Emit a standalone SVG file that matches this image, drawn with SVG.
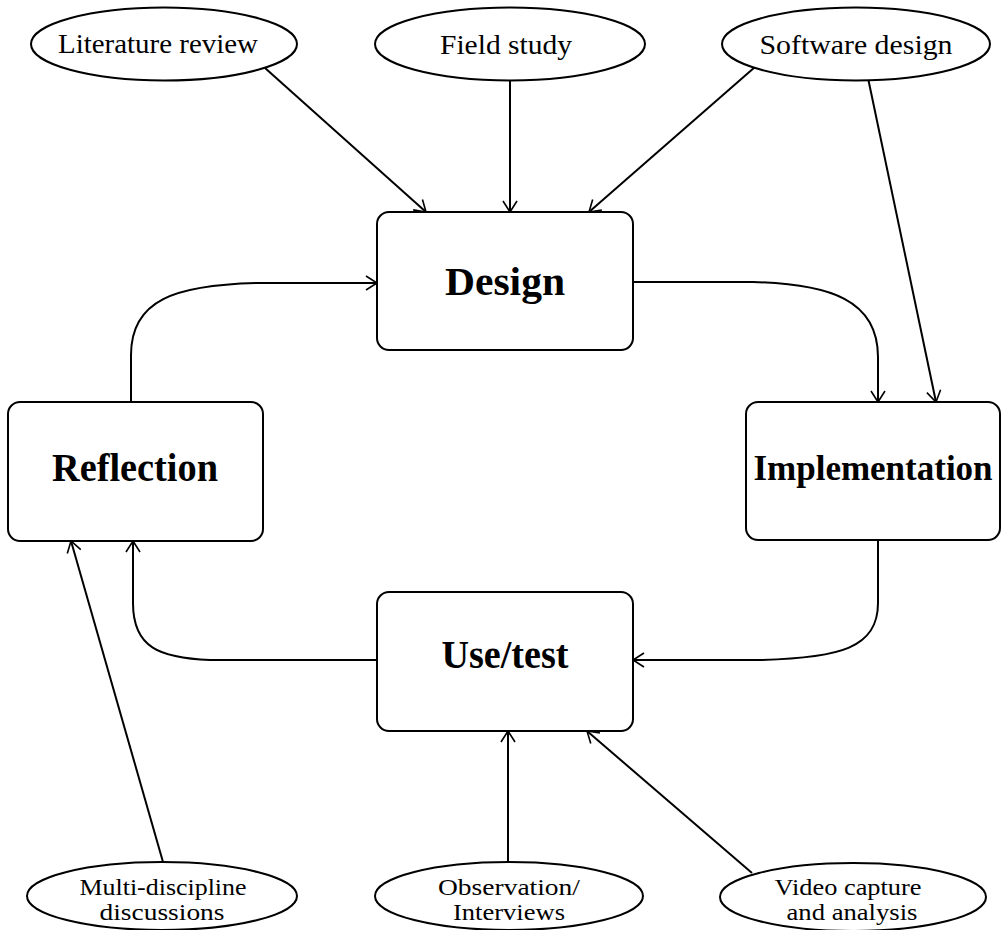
<svg xmlns="http://www.w3.org/2000/svg" width="1001" height="930" viewBox="0 0 1001 930">
  <style>
    .box { fill: #fff; stroke: #000; stroke-width: 2; }
    .oval { fill: #fff; stroke: #000; stroke-width: 2; }
    .lbl { font-family: "Liberation Serif", "Times New Roman", serif; font-weight: bold; font-size: 40px; fill: #000; text-anchor: middle; }
    .src { font-family: "Liberation Serif", "Times New Roman", serif; font-size: 28px; fill: #000; text-anchor: middle; }
    .src2 { font-family: "Liberation Serif", "Times New Roman", serif; font-size: 24px; fill: #000; text-anchor: middle; }
    .link { fill: none; stroke: #000; stroke-width: 2; marker-end: url(#arrow); }
  </style>
  <defs>
    <marker id="arrow" markerUnits="userSpaceOnUse" markerWidth="24" markerHeight="24" viewBox="-12 -12 24 24" refX="0" refY="0" orient="auto">
      <path d="M-11,-7 L0,0 L-11,7" fill="none" stroke="#000" stroke-width="1.6"/>
    </marker>
  </defs>
  <rect width="1001" height="930" fill="#fff"/>

  <g id="connectors">
    <line class="link" x1="265" y1="68" x2="426" y2="212"/>
    <line class="link" x1="510" y1="80" x2="510" y2="212"/>
    <line class="link" x1="755" y1="67" x2="589" y2="212"/>
    <line class="link" x1="868" y1="78" x2="936" y2="402"/>
    <path class="link" d="M633,282 L753,282 C830,284 878,300 878,357 L878,402"/>
    <path class="link" d="M878,540 L878,603 C878,648 840,658 760,660 L633,660"/>
    <path class="link" d="M377,660 L210,660 C160,658 133,648 133,603 L133,541"/>
    <path class="link" d="M131,402 L131,355 C131,300 175,285 257,283 L377,283"/>
    <line class="link" x1="163" y1="862" x2="71" y2="541"/>
    <line class="link" x1="508" y1="862" x2="508" y2="731"/>
    <line class="link" x1="752" y1="873" x2="587" y2="731"/>
  </g>

  <g id="literature-review">
    <ellipse class="oval" cx="164" cy="44" rx="133" ry="36.5"/>
    <text class="src" x="158" y="53" textLength="200" lengthAdjust="spacingAndGlyphs">Literature review</text>
  </g>
  <g id="field-study">
    <ellipse class="oval" cx="510" cy="44" rx="135" ry="36.5"/>
    <text class="src" x="506" y="54" textLength="132" lengthAdjust="spacingAndGlyphs">Field study</text>
  </g>
  <g id="software-design">
    <ellipse class="oval" cx="856" cy="44" rx="134" ry="36.5"/>
    <text class="src" x="856" y="54" textLength="193" lengthAdjust="spacingAndGlyphs">Software design</text>
  </g>

  <g id="design">
    <rect class="box" x="377" y="212" width="256" height="138" rx="12" ry="12"/>
    <text class="lbl" x="505" y="295" textLength="120" lengthAdjust="spacingAndGlyphs">Design</text>
  </g>
  <g id="reflection">
    <rect class="box" x="8" y="402" width="255" height="139" rx="12" ry="12"/>
    <text class="lbl" x="135" y="481" textLength="166" lengthAdjust="spacingAndGlyphs">Reflection</text>
  </g>
  <g id="implementation">
    <rect class="box" x="746" y="402" width="254" height="138" rx="12" ry="12"/>
    <text class="lbl" x="873" y="480" style="font-size:35px">Implementation</text>
  </g>
  <g id="use-test">
    <rect class="box" x="377" y="592" width="256" height="139" rx="12" ry="12"/>
    <text class="lbl" x="505" y="668" textLength="127" lengthAdjust="spacingAndGlyphs">Use/test</text>
  </g>

  <g id="multi-discipline">
    <ellipse class="oval" cx="162" cy="896" rx="135" ry="34"/>
    <text class="src2" x="163" y="895" textLength="167" lengthAdjust="spacingAndGlyphs">Multi-discipline</text>
    <text class="src2" x="162" y="920" textLength="125" lengthAdjust="spacingAndGlyphs">discussions</text>
  </g>
  <g id="observation">
    <ellipse class="oval" cx="509" cy="896" rx="134" ry="34"/>
    <text class="src2" x="509" y="895" textLength="142" lengthAdjust="spacingAndGlyphs">Observation/</text>
    <text class="src2" x="509" y="920" textLength="112" lengthAdjust="spacingAndGlyphs">Interviews</text>
  </g>
  <g id="video-capture">
    <ellipse class="oval" cx="853" cy="897" rx="133" ry="34"/>
    <text class="src2" x="848" y="895" textLength="147" lengthAdjust="spacingAndGlyphs">Video capture</text>
    <text class="src2" x="852" y="920" textLength="131" lengthAdjust="spacingAndGlyphs">and analysis</text>
  </g>
</svg>
